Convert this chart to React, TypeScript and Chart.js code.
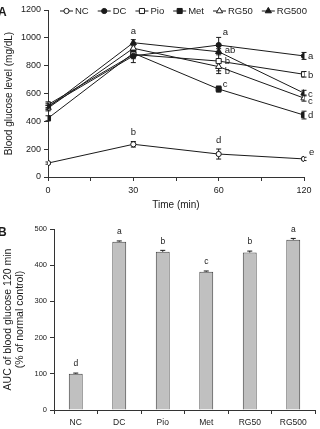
import React, { useEffect, useRef } from "react";
import { Chart, registerables } from "chart.js";

Chart.register(...registerables);

// ---- Panel A: blood glucose over time ----
const timePoints = [0, 30, 60, 120];
const seriesNames = ["NC", "DC", "Pio", "Met", "RG50", "RG500"];

const ncGlucose = [100, 235, 165, 130];
const dcGlucose = [510, 870, 948, 870];
const pioGlucose = [520, 880, 833, 738];
const metGlucose = [422, 890, 632, 445];
const rg50Glucose = [495, 925, 793, 567];
const rg500Glucose = [500, 965, 900, 603];

const ncErr = [8, 20, 36, 12];
const dcErr = [20, 48, 55, 25];
const pioErr = [20, 30, 70, 20];
const metErr = [18, 28, 22, 28];
const rg50Err = [20, 25, 50, 22];
const rg500Err = [16, 22, 22, 20];

const ncLetters = ["", "b", "d", "e"];
const dcLetters = ["", "", "a", "a"];
const pioLetters = ["", "", "b", "b"];
const metLetters = ["", "", "c", "d"];
const rg50Letters = ["", "", "b", "c"];
const rg500Letters = ["", "a", "ab", "c"];

// ---- Panel B: AUC (% of normal control) ----
const groups = ["NC", "DC", "Pio", "Met", "RG50", "RG500"];
const aucValues = [100, 465, 437, 382, 435, 470];
const aucErr = [2, 2, 4, 2, 4, 4];
const aucLetters = ["d", "a", "b", "c", "b", "a"];

const FONT = '"Liberation Sans", Arial, Helvetica, sans-serif';
const INK = "#1a1a1a";
const AXIS = "#333333";

// marker look for each series (open = white fill)
const markerStyles = [
  { shape: "circle", radius: 2.6, fill: "#ffffff" },
  { shape: "circle", radius: 2.6, fill: INK },
  { shape: "rect", radius: 3.6, fill: "#ffffff" },
  { shape: "rect", radius: 3.6, fill: INK },
  { shape: "triangle", radius: 3.6, fill: "#ffffff" },
  { shape: "triangle", radius: 3.6, fill: INK },
];

// where each significance letter sits relative to its point: [dx, dy, align]
const letterNudges: Record<string, [number, number, CanvasTextAlign]> = {
  "0-1": [0, -12, "center"],
  "0-2": [0, -14, "center"],
  "0-3": [5, -7, "left"],
  "1-2": [4, -13, "left"],
  "1-3": [4, 0, "left"],
  "2-2": [6, 0, "left"],
  "2-3": [4, 1, "left"],
  "3-2": [4, -5, "left"],
  "3-3": [4, 0, "left"],
  "4-2": [6, 5, "left"],
  "4-3": [4, 3, "left"],
  "5-1": [0, -11, "center"],
  "5-2": [6, -1, "left"],
  "5-3": [4, 1, "left"],
};

function drawMarker(
  ctx: CanvasRenderingContext2D,
  shape: string,
  x: number,
  y: number,
  r: number,
  fill: string
) {
  ctx.beginPath();
  if (shape === "circle") {
    ctx.arc(x, y, r, 0, Math.PI * 2);
  } else if (shape === "rect") {
    const s = r * Math.SQRT1_2;
    ctx.rect(x - s, y - s, 2 * s, 2 * s);
  } else {
    let a = 0;
    ctx.moveTo(x + Math.sin(a) * r, y - Math.cos(a) * r);
    a += (2 * Math.PI) / 3;
    ctx.lineTo(x + Math.sin(a) * r, y - Math.cos(a) * r);
    a += (2 * Math.PI) / 3;
    ctx.lineTo(x + Math.sin(a) * r, y - Math.cos(a) * r);
    ctx.closePath();
  }
  ctx.fillStyle = fill;
  ctx.fill();
  ctx.lineWidth = 1;
  ctx.strokeStyle = INK;
  ctx.stroke();
}

function LineChartPanel() {
  const ref = useRef<HTMLCanvasElement>(null);
  useEffect(() => {
    if (!ref.current) return;
    const values = [ncGlucose, dcGlucose, pioGlucose, metGlucose, rg50Glucose, rg500Glucose];
    const errs = [ncErr, dcErr, pioErr, metErr, rg50Err, rg500Err];
    const letters = [ncLetters, dcLetters, pioLetters, metLetters, rg50Letters, rg500Letters];

    const errorBars = {
      id: "glucoseErrorBars",
      beforeDatasetsDraw(chart: any) {
        const { ctx } = chart;
        const ys = chart.scales.y;
        ctx.save();
        ctx.strokeStyle = INK;
        ctx.lineWidth = 1;
        values.forEach((vals, i) => {
          const meta = chart.getDatasetMeta(i);
          vals.forEach((v, j) => {
            const x = meta.data[j].x;
            const top = ys.getPixelForValue(v + errs[i][j]);
            const bot = ys.getPixelForValue(v - errs[i][j]);
            ctx.beginPath();
            ctx.moveTo(x, top);
            ctx.lineTo(x, bot);
            ctx.moveTo(x - 2.5, top);
            ctx.lineTo(x + 2.5, top);
            ctx.moveTo(x - 2.5, bot);
            ctx.lineTo(x + 2.5, bot);
            ctx.stroke();
          });
        });
        ctx.restore();
      },
      afterDatasetsDraw(chart: any) {
        const { ctx } = chart;
        ctx.save();
        ctx.fillStyle = INK;
        ctx.font = `9.5px ${FONT}`;
        ctx.textBaseline = "middle";
        letters.forEach((row, i) => {
          const meta = chart.getDatasetMeta(i);
          row.forEach((txt, j) => {
            if (!txt) return;
            const nudge = letterNudges[`${i}-${j}`] || [4, 0, "left"];
            ctx.textAlign = nudge[2];
            ctx.fillText(txt, meta.data[j].x + nudge[0], meta.data[j].y + nudge[1]);
          });
        });
        ctx.restore();
      },
    };

    const seriesKey = {
      id: "seriesKey",
      afterDraw(chart: any) {
        const { ctx } = chart;
        ctx.save();
        ctx.font = `9.5px ${FONT}`;
        ctx.textBaseline = "middle";
        ctx.textAlign = "left";
        let x = 60;
        const y = 11;
        seriesNames.forEach((name, i) => {
          ctx.strokeStyle = INK;
          ctx.lineWidth = 1;
          ctx.beginPath();
          ctx.moveTo(x, y);
          ctx.lineTo(x + 13, y);
          ctx.stroke();
          const m = markerStyles[i];
          drawMarker(ctx, m.shape, x + 6.5, y, m.radius, m.fill);
          ctx.fillStyle = INK;
          ctx.fillText(name, x + 15, y);
          x += 15 + ctx.measureText(name).width + 9;
        });
        ctx.restore();
      },
    };

    const chart = new Chart(ref.current, {
      type: "line",
      data: {
        datasets: values.map((vals, i) => ({
          label: seriesNames[i],
          data: vals.map((v, j) => ({ x: j, y: v })),
          borderColor: INK,
          borderWidth: 1,
          pointStyle: markerStyles[i].shape as any,
          pointRadius: markerStyles[i].radius,
          pointBackgroundColor: markerStyles[i].fill,
          pointBorderColor: INK,
          pointBorderWidth: 1,
          tension: 0,
        })),
      },
      options: {
        animation: false,
        responsive: false,
        events: [],
        layout: { padding: { top: 10, right: 16, left: 0, bottom: 0 } },
        plugins: { legend: { display: false }, tooltip: { enabled: false } },
        scales: {
          x: {
            type: "linear",
            min: 0,
            max: 3,
            ticks: {
              stepSize: 0.5,
              autoSkip: false,
              maxRotation: 0,
              padding: 4,
              color: INK,
              font: { family: FONT, size: 9 },
              callback: (v: any) =>
                Number.isInteger(v) ? String(timePoints[v as number]) : "",
            },
            grid: { drawOnChartArea: false, tickLength: 4, color: AXIS },
            border: { color: AXIS },
            title: {
              display: true,
              text: "Time (min)",
              color: INK,
              font: { family: FONT, size: 10 },
              padding: { top: 2, bottom: 4 },
            },
            afterFit: (s: any) => {
              s.height = 38;
            },
          },
          y: {
            min: 0,
            max: 1200,
            ticks: {
              stepSize: 200,
              padding: 3,
              color: INK,
              font: { family: FONT, size: 9 },
              callback: (v: any) => String(v),
            },
            grid: { drawOnChartArea: false, tickLength: 4, color: AXIS },
            border: { color: AXIS },
            title: {
              display: true,
              text: "Blood glucose level (mg/dL)",
              color: INK,
              font: { family: FONT, size: 10 },
              padding: { top: 3, bottom: 0 },
            },
            afterFit: (s: any) => {
              s.width = 48;
            },
          },
        },
      },
      plugins: [errorBars, seriesKey],
    });
    return () => chart.destroy();
  }, []);
  return <canvas ref={ref} width={320} height={215} style={{ display: "block" }} />;
}

function BarChartPanel() {
  const ref = useRef<HTMLCanvasElement>(null);
  useEffect(() => {
    if (!ref.current) return;

    const barMarks = {
      id: "aucMarks",
      afterDatasetsDraw(chart: any) {
        const { ctx } = chart;
        const ys = chart.scales.y;
        const meta = chart.getDatasetMeta(0);
        ctx.save();
        ctx.strokeStyle = INK;
        ctx.fillStyle = INK;
        ctx.lineWidth = 1;
        ctx.font = `8.5px ${FONT}`;
        ctx.textAlign = "center";
        ctx.textBaseline = "middle";
        aucValues.forEach((v, i) => {
          const x = meta.data[i].x;
          const base = ys.getPixelForValue(v);
          const top = ys.getPixelForValue(v + aucErr[i]);
          ctx.beginPath();
          ctx.moveTo(x, base);
          ctx.lineTo(x, top);
          ctx.moveTo(x - 2.5, top);
          ctx.lineTo(x + 2.5, top);
          ctx.stroke();
          ctx.fillText(aucLetters[i], x, top - 9);
        });
        ctx.restore();
      },
    };

    const chart = new Chart(ref.current, {
      type: "bar",
      data: {
        labels: groups,
        datasets: [
          {
            data: aucValues,
            backgroundColor: "#c0c0c0",
            borderColor: "#444444",
            borderWidth: 1,
            barPercentage: 0.32,
            categoryPercentage: 1,
          },
        ],
      },
      options: {
        animation: false,
        responsive: false,
        events: [],
        layout: { padding: { top: 14, right: 5, left: 0, bottom: 0 } },
        plugins: { legend: { display: false }, tooltip: { enabled: false } },
        scales: {
          x: {
            ticks: {
              padding: 4,
              color: INK,
              font: { family: FONT, size: 8.5 },
              maxRotation: 0,
            },
            grid: { drawOnChartArea: false, tickLength: 4, color: AXIS, offset: true },
            border: { color: AXIS },
            afterFit: (s: any) => {
              s.height = 19;
            },
          },
          y: {
            min: 0,
            max: 500,
            ticks: {
              stepSize: 100,
              padding: 3,
              color: INK,
              font: { family: FONT, size: 7.5 },
              callback: (v: any) => String(v),
            },
            grid: { drawOnChartArea: false, tickLength: 4, color: AXIS },
            border: { color: AXIS },
            title: {
              display: true,
              text: ["AUC of blood glucose 120 min", "(% of normal control)"],
              color: INK,
              font: { family: FONT, size: 10.5, lineHeight: 1.15 },
              padding: { top: 2, bottom: 0 },
            },
            afterFit: (s: any) => {
              s.width = 54;
            },
          },
        },
      },
      plugins: [barMarks],
    });
    return () => chart.destroy();
  }, []);
  return <canvas ref={ref} width={320} height={214} style={{ display: "block" }} />;
}

const panelTag: React.CSSProperties = {
  position: "absolute",
  left: -2,
  fontFamily: FONT,
  fontWeight: "bold",
  fontSize: 12,
  lineHeight: "12px",
  color: INK,
};

export default function App() {
  return (
    <div
      style={{
        position: "fixed",
        left: 0,
        top: 0,
        width: 320,
        height: 429,
        background: "#ffffff",
        overflow: "hidden",
      }}
    >
      <div style={{ position: "absolute", left: 0, top: 0 }}>
        <LineChartPanel />
      </div>
      <div style={{ position: "absolute", left: 0, top: 215 }}>
        <BarChartPanel />
      </div>
      <div style={{ ...panelTag, top: 6 }}>A</div>
      <div style={{ ...panelTag, top: 226 }}>B</div>
    </div>
  );
}
